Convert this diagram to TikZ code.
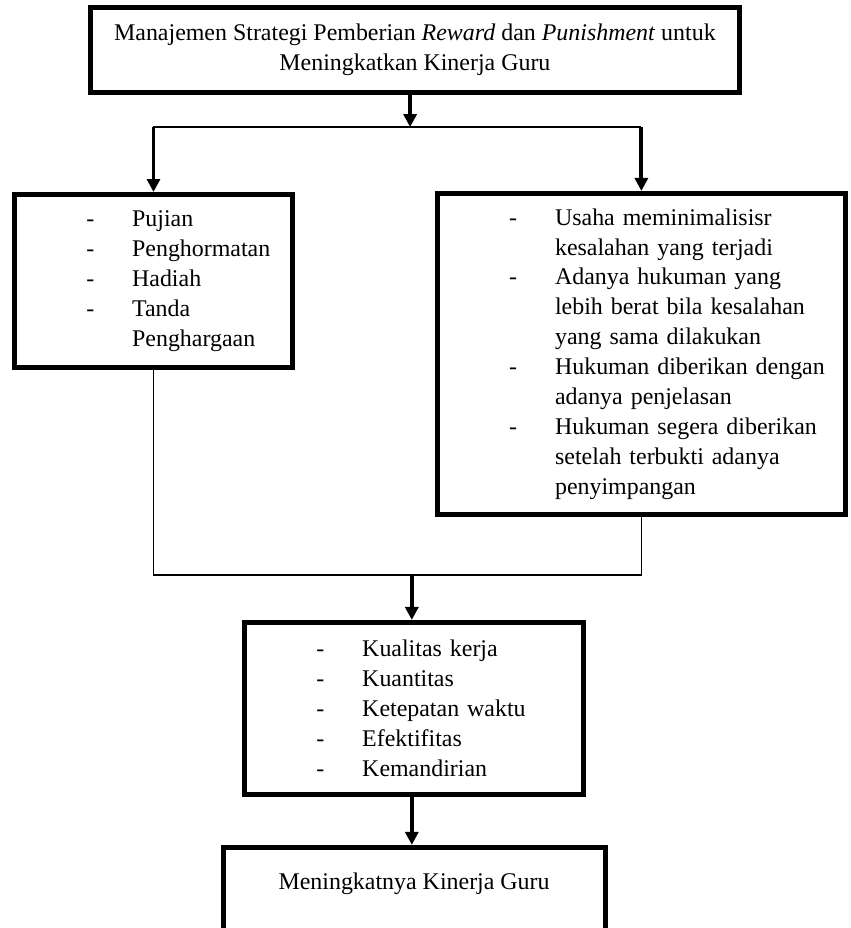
\documentclass[tikz,border=0pt]{standalone}
\usepackage{fontspec}
\setmainfont{Liberation Serif}
\usetikzlibrary{arrows.meta, calc}
\newcommand{\dashitem}{\hspace*{36pt}\makebox[23pt][l]{-}}
\newcommand{\contitem}{\hspace*{59pt}}

\begin{document}
\begin{tikzpicture}[flow/.style={line width=2pt, -{Triangle[length=6.5pt, width=6.5pt]}}, link/.style={line width=0.8pt}, box/.style={draw, line width=2.5pt, align=center}, listbox/.style={box, align=left, inner xsep=0pt}, every node/.style={font=\fontsize{12}{15}\selectfont}]
  \clip (0,0) rectangle (15,-16.36);
  \node[box, minimum width=11.44cm, minimum height=1.5cm] (strategi) at (7.315,-0.881) {Manajemen Strategi Pemberian \textit{Reward} dan \textit{Punishment} untuk\\Meningkatkan Kinerja Guru};
  \node[listbox, text width=4.90cm, minimum height=3.05cm] (reward) at (2.706,-4.953) {\dashitem Pujian\\\dashitem Penghormatan\\\dashitem Hadiah\\\dashitem Tanda\\\contitem Penghargaan};
  \node[listbox, text width=7.19cm, minimum height=5.66cm] (punish) at (11.307,-6.240) {\dashitem Usaha meminimalisisr\\\contitem kesalahan yang terjadi\\\dashitem Adanya hukuman yang\\\contitem lebih berat bila kesalahan\\\contitem yang sama dilakukan\\\dashitem Hukuman diberikan dengan\\\contitem adanya penjelasan\\\dashitem Hukuman segera diberikan\\\contitem setelah terbukti adanya\\\contitem penyimpangan};
  \node[listbox, text width=5.975cm, minimum height=3.03cm] (kinerja) at (7.30,-12.488) {\dashitem Kualitas kerja\\\dashitem Kuantitas\\\dashitem Ketepatan waktu\\\dashitem Efektifitas\\\dashitem Kemandirian};
  \node[box, anchor=north, minimum width=6.733cm, inner ysep=13pt, text depth=60pt] (hasil) at (7.30,-14.894) {Meningkatnya Kinerja Guru};
  \coordinate (split) at (7.23,-2.24);
  \coordinate (join) at (7.26,-10.14);
  % branches
  \draw[flow] (strategi.south -| split) -- (split);
  \draw[link] (reward.north |- split) -- (punish.north |- split);
  \draw[flow] (reward.north |- split) -- (reward.north);
  \draw[flow] (punish.north |- split) -- (punish.north);
  % merge
  \draw[link] (reward.south) -- (reward.south |- join) -- (punish.south |- join) -- (punish.south);
  \draw[flow] (join) -- (join |- kinerja.north);
  \draw[flow] (kinerja.south -| join) -- (join |- hasil.north);
\end{tikzpicture}
\end{document}
